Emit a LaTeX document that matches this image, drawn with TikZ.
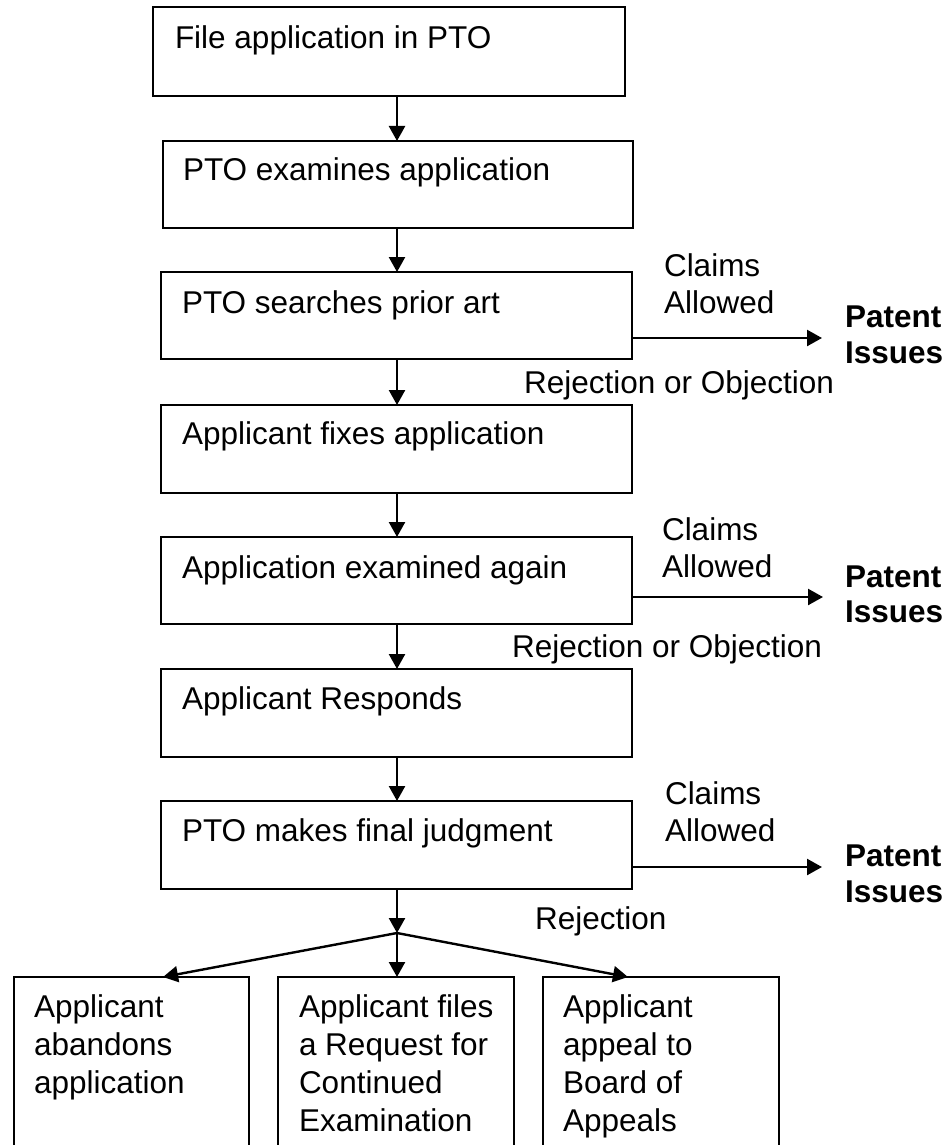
\documentclass[tikz,border=0pt]{standalone}
\usepackage{fontspec}
\setmainfont{Liberation Sans}
\usetikzlibrary{arrows.meta}
\tikzset{
  box/.style={draw, line width=2.4pt, rectangle, inner sep=0pt, outer sep=0pt, anchor=north west},
  lbl/.style={anchor=base west, inner sep=0pt, outer sep=0pt},
  arr/.style={line width=2.4pt, -{Triangle[length=15pt,width=16pt]}},
  bold/.style={font=\fontsize{31.5}{38}\selectfont\bfseries},
}
\begin{document}
\begin{tikzpicture}[x=1pt, y=-1pt, font=\fontsize{31.5}{38}\selectfont]
\useasboundingbox (0,0) rectangle (949,1145);
% main boxes
\node[box, minimum width=472pt, minimum height=89pt] (b1) at (153,7) {};
\node[box, minimum width=470pt, minimum height=87pt] (b2) at (163,141) {};
\node[box, minimum width=471pt, minimum height=87pt] (b3) at (161,272) {};
\node[box, minimum width=471pt, minimum height=88pt] (b4) at (161,405) {};
\node[box, minimum width=471pt, minimum height=87pt] (b5) at (161,537) {};
\node[box, minimum width=471pt, minimum height=88pt] (b6) at (161,669) {};
\node[box, minimum width=471pt, minimum height=88pt] (b7) at (161,801) {};
% bottom boxes (run past the lower edge)
\node[box, minimum width=235pt, minimum height=220pt] (b8) at (14,977) {};
\node[box, minimum width=236pt, minimum height=220pt] (b9) at (278,977) {};
\node[box, minimum width=236pt, minimum height=220pt] (b10) at (543,977) {};
% box texts
\node[lbl] (t1) at (175,49) {File application in PTO};
\node[lbl] (t2) at (183,180) {PTO examines application};
\node[lbl] (t3) at (182,313) {PTO searches prior art};
\node[lbl] (t4) at (182,444) {Applicant fixes application};
\node[lbl] (t5) at (182,578) {Application examined again};
\node[lbl] (t6) at (182,709) {Applicant Responds};
\node[lbl] (t7) at (182,841) {PTO makes final judgment};
\node[lbl] (t8a) at (34,1017) {Applicant};
\node[lbl] (t8b) at (34,1055) {abandons};
\node[lbl] (t8c) at (34,1093) {application};
\node[lbl] (t9a) at (299,1017) {Applicant files};
\node[lbl] (t9b) at (299,1055) {a Request for};
\node[lbl] (t9c) at (299,1093) {Continued};
\node[lbl] (t9d) at (299,1131) {Examination};
\node[lbl] (t10a) at (563,1017) {Applicant};
\node[lbl] (t10b) at (563,1055) {appeal to};
\node[lbl] (t10c) at (563,1093) {Board of};
\node[lbl] (t10d) at (563,1131) {Appeals};
% side labels
\node[lbl] (c1a) at (664,276) {Claims};
\node[lbl] (c1b) at (664,313) {Allowed};
\node[lbl] (c2a) at (662,540) {Claims};
\node[lbl] (c2b) at (662,577) {Allowed};
\node[lbl] (c3a) at (665,804) {Claims};
\node[lbl] (c3b) at (665,841) {Allowed};
\node[lbl, bold] (p1a) at (845,327) {Patent};
\node[lbl, bold] (p1b) at (845,363) {Issues};
\node[lbl, bold] (p2a) at (845,587) {Patent};
\node[lbl, bold] (p2b) at (845,622) {Issues};
\node[lbl, bold] (p3a) at (845,866) {Patent};
\node[lbl, bold] (p3b) at (845,902) {Issues};
\node[lbl] (r1) at (524,393) {Rejection or Objection};
\node[lbl] (r2) at (512,657) {Rejection or Objection};
\node[lbl] (r3) at (535,929) {Rejection};
% connectors
\coordinate (mx) at (397,0);
\coordinate (J) at (397,933);
\coordinate (e1) at (822,338);
\coordinate (e2) at (823,597);
\coordinate (e3) at (822,867);
\draw[arr] (b1.south -| mx) -- (b2.north -| mx);
\draw[arr] (b2.south -| mx) -- (b3.north -| mx);
\draw[arr] (b3.south -| mx) -- (b4.north -| mx);
\draw[arr] (b4.south -| mx) -- (b5.north -| mx);
\draw[arr] (b5.south -| mx) -- (b6.north -| mx);
\draw[arr] (b6.south -| mx) -- (b7.north -| mx);
\draw[arr] (b7.south -| mx) -- (J);
\draw[arr] (J) -- (b9.north -| J);
\draw[arr] (J) -- ([xshift=149pt]b8.north west);
\draw[arr] (J) -- ([xshift=85pt]b10.north west);
\draw[arr] (b3.east |- e1) -- (e1);
\draw[arr] (b5.east |- e2) -- (e2);
\draw[arr] (b7.east |- e3) -- (e3);
\end{tikzpicture}
\end{document}
